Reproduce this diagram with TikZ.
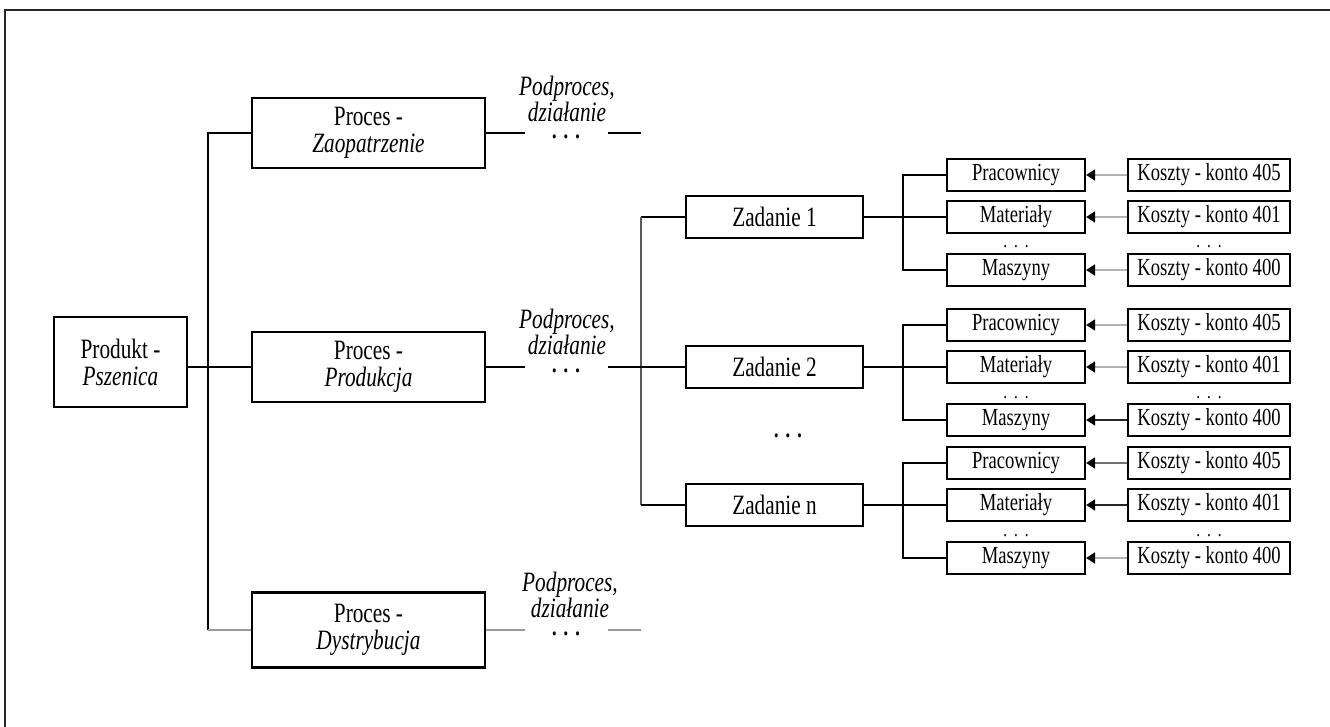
\documentclass[tikz,border=0pt]{standalone}
\usepackage{fontspec}
\setmainfont{Liberation Serif}[FakeStretch=0.76]
\usetikzlibrary{arrows.meta}
\begin{document}
\begin{tikzpicture}[x=1pt,y=-1pt,
  box/.style={draw=black,line width=2.2pt,fill=white,inner sep=0pt,align=center},
  bigfont/.style={font=\fontsize{28}{27}\selectfont},
  prod/.style={box,bigfont,minimum width=133pt,minimum height=90pt},
  proc/.style={box,bigfont,minimum width=233pt,minimum height=70pt},
  zad/.style={box,bigfont,minimum width=177pt,minimum height=42pt},
  res/.style={box,font=\fontsize{24.5}{24}\selectfont,minimum width=138pt,minimum height=32pt},
  cost/.style={res,minimum width=162pt},
  link/.style={line width=2pt},
  glink/.style={line width=2.6pt,draw=black!40},
  vline/.style={line width=1.5pt,draw=black!65},
  costarrow/.style={line width=1.8pt,-{Triangle[length=9pt,width=11pt,color=black]}},
  sub/.style={font=\itshape\fontsize{28}{26.5}\selectfont,align=center,inner sep=0pt},
  dots/.style={font=\fontsize{17}{17}\selectfont,inner sep=0pt,anchor=center},
  sdots/.style={font=\fontsize{20}{22}\selectfont,inner sep=0pt,anchor=base}
]
\useasboundingbox (0,0) rectangle (1330,727);
% frame
\coordinate (fa) at (5,727);
\coordinate (fb) at (5,10);
\coordinate (fc) at (1330,10);
\draw[line width=1.5pt,black!85] (fa) -- (fb) -- (fc);

% product
\node[prod] (pr) at (120.5,362) {Produkt -\\\textit{Pszenica}};
% processes
\node[proc] (pz) at (368.5,133) {Proces -\\\textit{Zaopatrzenie}};
\node[proc] (pp) at (368.5,367) {Proces -\\\textit{Produkcja}};
\node[proc,minimum height=75pt] (pd) at (368.5,630) {Proces -\\\textit{Dystrybucja}};

% trunk
\coordinate (tt) at (208,133);
\coordinate (tb) at (208,630);
\draw[link] (pz.west) -- (tt) -- (tb);
\draw[glink] (tb) -- (pd.west);
\draw[link] (pr.east |- pp.west) -- (pp.west);

% subprocess labels and dashes
\node[sub] (sz) at (567,99) {Podproces,\\działanie};
\node[sub] (sp) at (567,332) {Podproces,\\działanie};
\node[sub] (sd) at (570,595) {Podproces,\\działanie};
\node[dots] (dz) at (566,139) {•\hspace{7pt}•\hspace{7pt}•};
\node[dots] (dp) at (566,373) {•\hspace{7pt}•\hspace{7pt}•};
\node[dots] (dd) at (566,636) {•\hspace{7pt}•\hspace{7pt}•};
\coordinate (az1) at (525,133); \coordinate (az2) at (608,133); \coordinate (az3) at (641,133);
\coordinate (ap1) at (525,367); \coordinate (ap2) at (608,367);
\coordinate (ad1) at (525,630); \coordinate (ad2) at (608,630); \coordinate (ad3) at (641,630);
\draw[link] (pz.east) -- (az1);
\draw[link] (az2) -- (az3);
\draw[link] (pp.east) -- (ap1);
\draw[glink] (pd.east) -- (ad1);
\draw[glink] (ad2) -- (ad3);

% tasks
\node[zad] (z1) at (774.5,217) {Zadanie 1};
\node[zad] (z2) at (774.5,367) {Zadanie 2};
\node[zad] (zn) at (774.5,505) {Zadanie n};
\node[dots] (zdots) at (788,438) {•\hspace{7pt}•\hspace{7pt}•};
\coordinate (vt) at (641,217);
\coordinate (vb) at (641,505);
\draw[link] (z1.west) -- (vt);
\draw[vline] (vt) -- (vb);
\draw[link] (vb) -- (zn.west);
\draw[link] (ap2) -- (z2.west);

% resources and costs
\foreach \g/\m/\ca/\cb/\cc in {1/217/black!30/black!30/black!30,
                               2/367/black!30/black!30/black!85,
                               3/505/black!55/black!85/black!30}{
  \node[res] (rp\g) at (1016,\m-42) {Pracownicy};
  \node[res] (rm\g) at (1016,\m) {Materiały};
  \node[res] (rs\g) at (1016,\m+53) {Maszyny};
  \node[sdots] (rd\g) at (1016,\m+31) {.\hspace{7pt}.\hspace{7pt}.};
  \node[cost] (kp\g) at (1209,\m-42) {Koszty - konto 405};
  \node[cost] (km\g) at (1209,\m) {Koszty - konto 401};
  \node[cost] (ks\g) at (1209,\m+53) {Koszty - konto 400};
  \node[sdots] (kd\g) at (1209,\m+31) {.\hspace{7pt}.\hspace{7pt}.};
  \coordinate (b\g) at (903,\m);
  \draw[link] (rp\g.west) -| (b\g) |- (rs\g.west);
  \draw[costarrow,draw=\ca] (kp\g.west) -- (rp\g.east);
  \draw[costarrow,draw=\cb] (km\g.west) -- (rm\g.east);
  \draw[costarrow,draw=\cc] (ks\g.west) -- (rs\g.east);
}
\draw[link] (z1.east) -- (rm1.west);
\draw[link] (z2.east) -- (rm2.west);
\draw[link] (zn.east) -- (rm3.west);
\end{tikzpicture}
\end{document}
